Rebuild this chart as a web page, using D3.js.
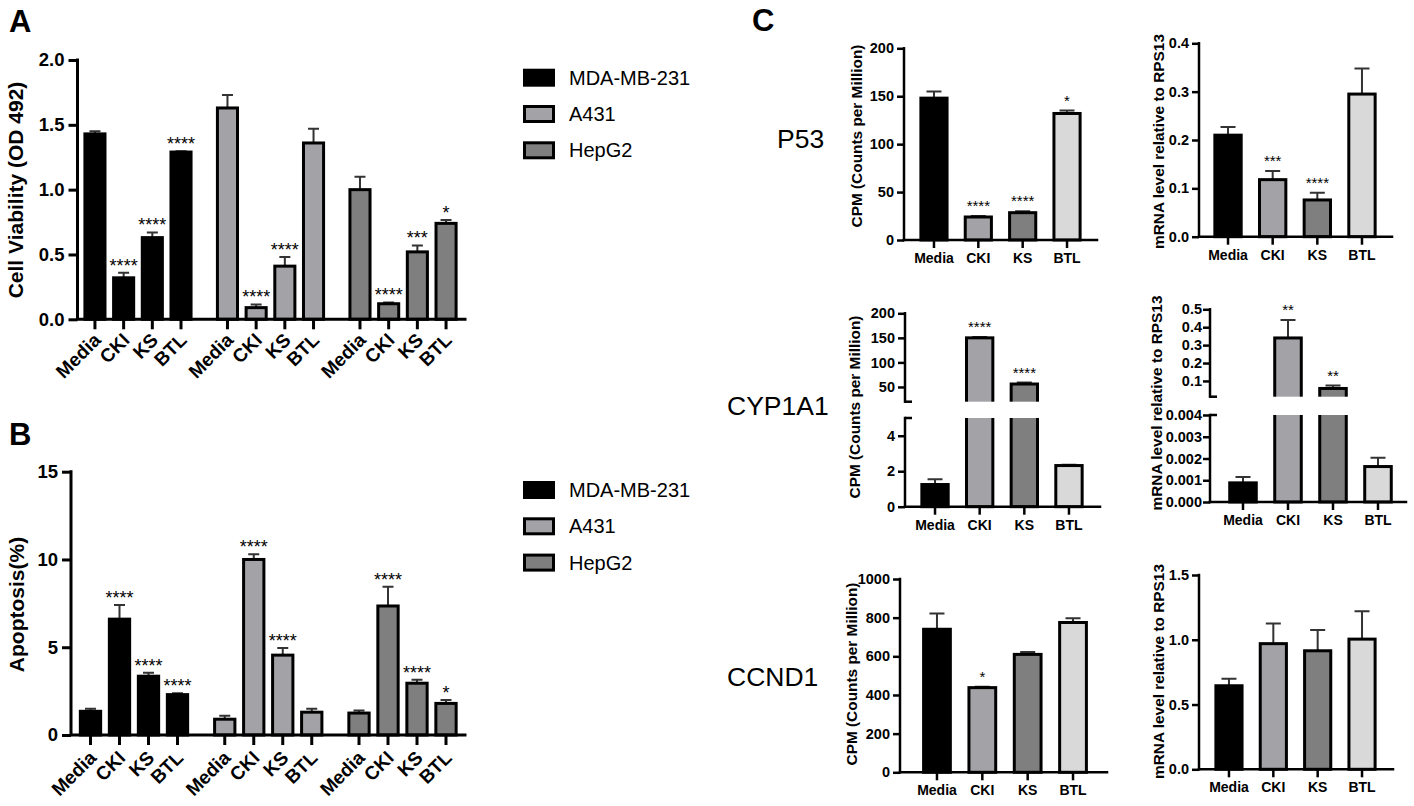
<!DOCTYPE html>
<html>
<head>
<meta charset="utf-8">
<script src="https://cdn.jsdelivr.net/npm/d3@7"></script>
<style>
  body { margin: 0; background: #fff; }
  svg text { font-family: "Liberation Sans", Arial, sans-serif; }
</style>
</head>
<body>
<svg id="fig" width="1414" height="806"></svg>
<script>
// ---- data ----
const groups = ["MDA-MB-231", "A431", "HepG2"];
const treatments = ["Media", "CKI", "KS", "BTL"];

// A: cell viability (OD 492), rows = cell lines
const viabMean = [[1.43, 0.32, 0.63, 1.29], [1.63, 0.09, 0.41, 1.36], [1.00, 0.12, 0.52, 0.74]];
const viabErr = [[0.02, 0.04, 0.04, 0.006], [0.10, 0.025, 0.07, 0.11], [0.10, 0.01, 0.05, 0.025]];
const viabStars = [["", "****", "****", "****"], ["", "****", "****", ""], ["", "****", "***", "*"]];

// B: apoptosis (%)
const apopMean = [[1.35, 6.6, 3.35, 2.3], [0.9, 10.0, 4.55, 1.3], [1.25, 7.35, 2.95, 1.8]];
const apopErr = [[0.15, 0.8, 0.2, 0.08], [0.2, 0.3, 0.4, 0.2], [0.15, 1.1, 0.2, 0.2]];
const apopStars = [["", "****", "****", "****"], ["", "****", "****", ""], ["", "****", "****", "*"]];

// C: gene expression
const p53Cpm = [148, 24, 28.5, 132], p53CpmErr = [7, 1, 1.5, 3];
const p53CpmStars = ["", "****", "****", "*"];
const p53Mrna = [0.21, 0.118, 0.076, 0.295], p53MrnaErr = [0.017, 0.018, 0.015, 0.053];
const p53MrnaStars = ["", "***", "****", ""];
const cypCpm = [1.25, 150, 56, 2.32], cypCpmErr = [0.3, 1.5, 3, 0.05];
const cypCpmStars = ["", "****", "****", ""];
const cypMrna = [0.00088, 0.34, 0.058, 0.00163], cypMrnaErr = [0.00027, 0.10, 0.016, 0.0004];
const cypMrnaStars = ["", "**", "**", ""];
const ccndCpm = [740, 438, 610, 775], ccndCpmErr = [82, 5, 12, 22];
const ccndCpmStars = ["", "*", "", ""];
const ccndMrna = [0.645, 0.97, 0.915, 1.005], ccndMrnaErr = [0.055, 0.155, 0.16, 0.215];
const ccndMrnaStars = ["", "", "", ""];

const groupFill = { "MDA-MB-231": "#000000", "A431": "#a3a3a7", "HepG2": "#7f7f7f" };
const treatFill = { "Media": "#000000", "CKI": "#a3a3a7", "KS": "#7f7f7f", "BTL": "#d9d9d9" };

const svg = d3.select("#fig");
const FONT = "'Liberation Sans', Arial, sans-serif";
const f1 = d3.format(".1f"), f3 = d3.format(".3f"), fd = d3.format("d");

const styleAxis = (sel, size, sw) => {
  sel.attr("font-family", FONT).attr("font-size", size).attr("font-weight", "bold");
  sel.select(".domain").remove();
  sel.selectAll(".tick line").attr("stroke", "#000").attr("stroke-width", sw);
  sel.selectAll(".tick text").attr("fill", "#000");
};

const yTitle = (text, x, yc, size) => {
  svg.append("text")
    .attr("transform", `translate(${x},${yc}) rotate(-90)`)
    .attr("text-anchor", "middle")
    .attr("font-size", size).attr("font-weight", "bold")
    .text(text);
};

const panelLetter = (t, x, y) => {
  svg.append("text").attr("x", x).attr("y", y)
    .attr("font-size", 31).attr("font-weight", "bold").text(t);
};

// ---- grouped bar charts (A, B) ----
function groupedChart(o) {
  const y = d3.scaleLinear().domain(o.dom).range([o.y0, o.y1]);
  const gx = d3.scaleBand().domain(groups).range(o.gRange).paddingInner(o.gPad);
  const tx = d3.scaleBand().domain(treatments).range([0, gx.bandwidth()])
    .paddingInner(0.3).paddingOuter(0.15);
  const g = svg.append("g");

  groups.forEach((grp, gi) => {
    const rows = treatments.map((t, i) => ({ t, v: o.mean[gi][i], e: o.err[gi][i], s: o.stars[gi][i] }));
    const gg = g.append("g").attr("transform", `translate(${gx(grp)},0)`);
    const cx = d => tx(d.t) + tx.bandwidth() / 2;

    gg.selectAll(".err").data(rows).join("path").attr("class", "err")
      .attr("d", d => `M${cx(d)},${y(d.v)}V${y(d.v + d.e)}M${cx(d) - 5.5},${y(d.v + d.e)}H${cx(d) + 5.5}`)
      .attr("stroke", "#333").attr("stroke-width", 2).attr("fill", "none");

    gg.selectAll(".bar").data(rows).join("rect").attr("class", "bar")
      .attr("x", d => tx(d.t)).attr("y", d => y(d.v))
      .attr("width", tx.bandwidth()).attr("height", d => o.y0 - y(d.v))
      .attr("fill", groupFill[grp]).attr("stroke", "#000").attr("stroke-width", 3);

    gg.selectAll(".star").data(rows).join("text").attr("class", "star")
      .attr("x", cx).attr("y", d => y(d.v + d.e) - 1)
      .attr("text-anchor", "middle").attr("font-size", 18)
      .text(d => d.s);

    const xa = gg.append("g").attr("transform", `translate(0,${o.y0})`)
      .call(d3.axisBottom(tx).tickSize(10).tickSizeOuter(0));
    styleAxis(xa, 19, 3);
    xa.selectAll(".tick text")
      .attr("y", null).attr("dy", null)
      .attr("text-anchor", "end")
      .attr("transform", `translate(7,${o.lblDy}) rotate(-45)`);
  });

  const ya = g.append("g").attr("transform", `translate(${o.ax},0)`)
    .call(d3.axisLeft(y).tickValues(o.ticks).tickFormat(o.fmt).tickSize(9).tickPadding(4));
  styleAxis(ya, 18.5, 3);

  g.append("path")
    .attr("d", `M${o.ax},${o.y1}V${o.y0}H${o.axEnd}`)
    .attr("fill", "none").attr("stroke", "#000").attr("stroke-width", 3)
    .attr("stroke-linecap", "square");
}

function legend(x, y, step) {
  const lg = svg.append("g").attr("transform", `translate(${x},${y})`);
  const it = lg.selectAll("g").data(groups).join("g")
    .attr("transform", (d, i) => `translate(0,${i * step})`);
  it.append("rect").attr("x", 1.5).attr("y", -7.5).attr("width", 29).attr("height", 15)
    .attr("fill", d => groupFill[d]).attr("stroke", "#000").attr("stroke-width", 3);
  it.append("text").attr("x", 46).attr("y", 7).attr("font-size", 20).text(d => d);
}

// ---- single bar charts with optional broken axis (C) ----
function geneChart(o) {
  const x = d3.scaleBand().domain(treatments).range(o.xRange).paddingInner(0.41).paddingOuter(0.205);
  const segs = o.segs.map(s => ({ ...s, y: d3.scaleLinear().domain(s.dom).range(s.range) }));
  const base = segs[0].range[0];
  const rows = treatments.map((t, i) => ({ t, v: o.mean[i], e: o.err[i], s: o.stars[i] }));
  const cx = d => x(d.t) + x.bandwidth() / 2;
  const segOf = v => segs.find((s, i) => v <= s.dom[1] || i === segs.length - 1);
  const g = svg.append("g");

  g.selectAll(".err").data(rows).join("path").attr("class", "err")
    .attr("d", d => {
      const sy = segOf(d.v).y;
      return `M${cx(d)},${sy(d.v)}V${sy(d.v + d.e)}M${cx(d) - 7.5},${sy(d.v + d.e)}H${cx(d) + 7.5}`;
    })
    .attr("stroke", "#333").attr("stroke-width", 2).attr("fill", "none");

  segs.forEach((s, si) => {
    const last = si === segs.length - 1;
    const top = d => (!last && d.v > s.dom[1]) ? s.range[1] - 6 : s.y(d.v);
    const bot = si === 0 ? s.range[0] : s.range[0] + 6;
    g.selectAll(null).data(rows.filter(d => d.v > s.dom[0])).join("rect")
      .attr("x", d => x(d.t)).attr("width", x.bandwidth())
      .attr("y", top).attr("height", d => bot - top(d))
      .attr("fill", d => treatFill[d.t]).attr("stroke", "#000").attr("stroke-width", 3);
  });

  // white gaps for broken axis
  segs.slice(1).forEach((s, i) => {
    g.append("rect").attr("x", o.ax + 2).attr("width", o.axEnd - o.ax)
      .attr("y", s.range[0]).attr("height", segs[i].range[1] - s.range[0])
      .attr("fill", "#fff");
  });

  g.selectAll(".star").data(rows).join("text").attr("class", "star")
    .attr("x", cx).attr("y", d => segOf(d.v).y(d.v + d.e) - 5)
    .attr("text-anchor", "middle").attr("font-size", 15)
    .text(d => d.s);

  segs.forEach((s, si) => {
    const ya = g.append("g").attr("transform", `translate(${o.ax},0)`)
      .call(d3.axisLeft(s.y).tickValues(s.ticks).tickFormat(s.fmt).tickSize(7).tickPadding(o.pad ?? 3));
    styleAxis(ya, 14.5, 2.5);
    g.append("line").attr("x1", o.ax).attr("x2", o.ax)
      .attr("y1", s.range[0]).attr("y2", s.range[1])
      .attr("stroke", "#000").attr("stroke-width", 2.5).attr("stroke-linecap", "square");
    const marks = [];
    if (si > 0) marks.push(s.range[0]);
    if (si < segs.length - 1) marks.push(s.range[1]);
    marks.forEach(my => g.append("line").attr("x1", o.ax).attr("x2", o.ax + 7)
      .attr("y1", my).attr("y2", my).attr("stroke", "#000").attr("stroke-width", 2.5));
  });

  const xa = g.append("g").attr("transform", `translate(0,${base})`)
    .call(d3.axisBottom(x).tickSize(8).tickPadding(5).tickSizeOuter(0));
  styleAxis(xa, 14, 2.5);
  g.append("line").attr("x1", o.ax).attr("x2", o.axEnd).attr("y1", base).attr("y2", base)
    .attr("stroke", "#000").attr("stroke-width", 2.5).attr("stroke-linecap", "square");

  yTitle(o.title, o.titleX, o.titleY, 15.4);
}

const geneLabel = (t, x, y) => {
  svg.append("text").attr("x", x).attr("y", y)
    .attr("font-family", "Lato, 'Open Sans', sans-serif").attr("font-size", 26.5).text(t);
};

// ---- panel A ----
panelLetter("A", 9, 32);
groupedChart({
  dom: [0, 2], y0: 319.3, y1: 60, ticks: [0, 0.5, 1, 1.5, 2], fmt: f1,
  ax: 77.5, axEnd: 465, gRange: [80.6, 460.4], gPad: 0.134, lblDy: 22,
  mean: viabMean, err: viabErr, stars: viabStars
});
yTitle("Cell Viability (OD 492)", 23, 190, 21);
legend(523, 77.7, 36.3);

// ---- panel B ----
panelLetter("B", 9, 445);
groupedChart({
  dom: [0, 15], y0: 735, y1: 471.7, ticks: [0, 5, 10, 15], fmt: fd,
  ax: 71, axEnd: 465, gRange: [76, 460.5], gPad: 0.136, lblDy: 24,
  mean: apopMean, err: apopErr, stars: apopStars
});
yTitle("Apoptosis(%)", 24, 604.5, 21);
legend(523, 490, 36.3);

// ---- panel C ----
panelLetter("C", 752, 31);
geneLabel("P53", 777, 148);
geneLabel("CYP1A1", 727, 415);
geneLabel("CCND1", 727, 686);

geneChart({
  ax: 904, axEnd: 1097, xRange: [911.8, 1089.2],
  segs: [{ dom: [0, 200], range: [240, 48.3], ticks: [0, 50, 100, 150, 200], fmt: fd }],
  mean: p53Cpm, err: p53CpmErr, stars: p53CpmStars,
  title: "CPM (Counts per Million)", titleX: 862, titleY: 136
});
geneChart({
  ax: 1199, axEnd: 1392, xRange: [1205.7, 1384.3],
  segs: [{ dom: [0, 0.4], range: [236.7, 43.3], ticks: [0, 0.1, 0.2, 0.3, 0.4], fmt: f1 }],
  mean: p53Mrna, err: p53MrnaErr, stars: p53MrnaStars,
  title: "mRNA level relative to RPS13", titleX: 1164, titleY: 141.5
});
geneChart({
  ax: 905, axEnd: 1100, xRange: [912.7, 1091.3],
  segs: [{ dom: [0, 5], range: [506.7, 418], ticks: [0, 2, 4], fmt: fd },
         { dom: [20, 200], range: [401.7, 313.3], ticks: [50, 100, 150, 200], fmt: fd }],
  mean: cypCpm, err: cypCpmErr, stars: cypCpmStars,
  title: "CPM (Counts per Million)", titleX: 860, titleY: 407
});
geneChart({
  ax: 1210, axEnd: 1406, xRange: [1220.5, 1400.5], pad: 1,
  segs: [{ dom: [0, 0.004], range: [502, 415], ticks: [0, 0.001, 0.002, 0.003, 0.004], fmt: f3 },
         { dom: [0.012, 0.5], range: [396.7, 309.3], ticks: [0.1, 0.2, 0.3, 0.4, 0.5], fmt: f1 }],
  mean: cypMrna, err: cypMrnaErr, stars: cypMrnaStars,
  title: "mRNA level relative to RPS13", titleX: 1162, titleY: 403
});
geneChart({
  ax: 900, axEnd: 1107, xRange: [914.3, 1095.7],
  segs: [{ dom: [0, 1000], range: [772.3, 579], ticks: [0, 200, 400, 600, 800, 1000], fmt: fd }],
  mean: ccndCpm, err: ccndCpmErr, stars: ccndCpmStars,
  title: "CPM (Counts per Million)", titleX: 857, titleY: 674
});
geneChart({
  ax: 1199, axEnd: 1393, xRange: [1206.8, 1384.2],
  segs: [{ dom: [0, 1.5], range: [769.3, 575], ticks: [0, 0.5, 1, 1.5], fmt: f1 }],
  mean: ccndMrna, err: ccndMrnaErr, stars: ccndMrnaStars,
  title: "mRNA level relative to RPS13", titleX: 1164, titleY: 671.5
});
</script>
</body>
</html>
